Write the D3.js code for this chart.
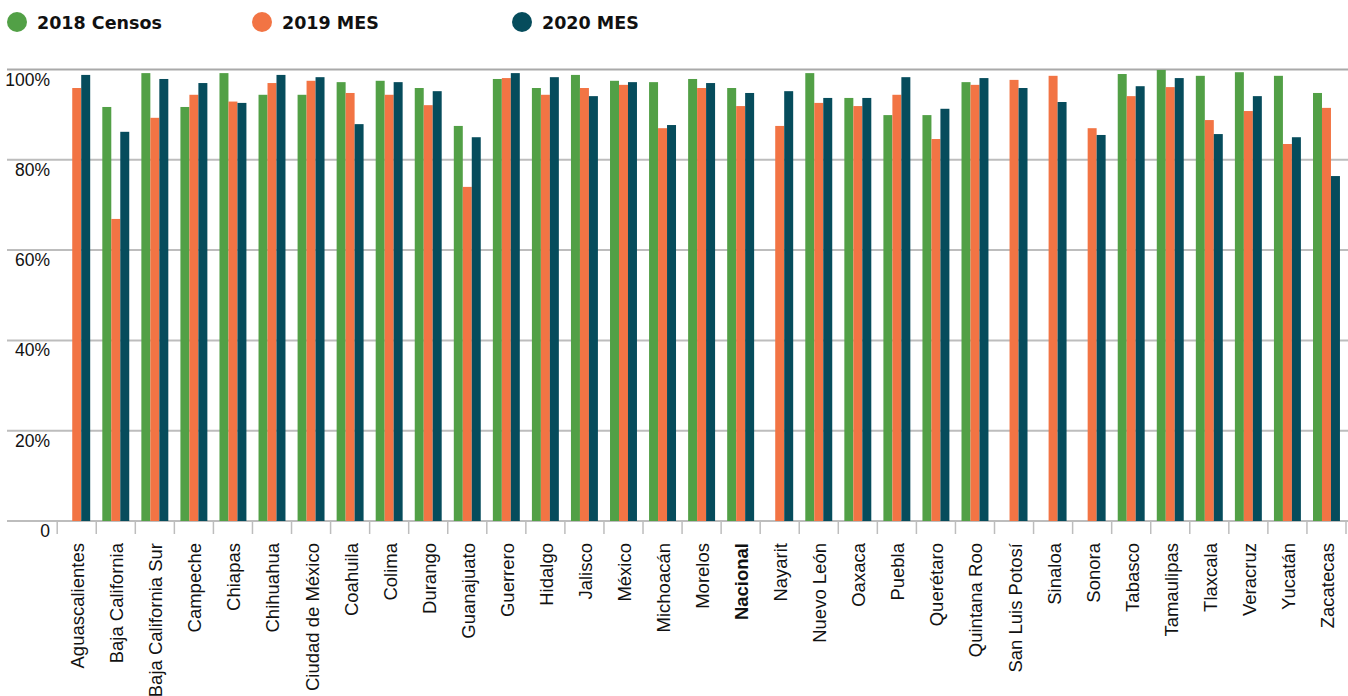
<!DOCTYPE html>
<html>
<head>
<meta charset="utf-8">
<script src="https://cdn.jsdelivr.net/npm/d3@7"></script>
<style>
  body { margin: 0; background: #fff; }
  svg { display: block; }
</style>
</head>
<body>
<div id="chart"></div>
<script>
// categorias (estados)
var states = ["Aguascalientes", "Baja California", "Baja California Sur", "Campeche", "Chiapas",
    "Chihuahua", "Ciudad de México", "Coahuila", "Colima", "Durango", "Guanajuato", "Guerrero",
    "Hidalgo", "Jalisco", "México", "Michoacán", "Morelos", "Nacional", "Nayarit", "Nuevo León",
    "Oaxaca", "Puebla", "Querétaro", "Quintana Roo", "San Luis Potosí", "Sinaloa", "Sonora",
    "Tabasco", "Tamaulipas", "Tlaxcala", "Veracruz", "Yucatán", "Zacatecas"];

var seriesNames = ["2018 Censos", "2019 MES", "2020 MES"];

var censos2018 = [null, 91.7, 99.2, 91.7, 99.2, 94.4, 94.4, 97.2, 97.5, 95.9, 87.5, 97.9,
    95.9, 98.8, 97.5, 97.2, 97.9, 95.9, null, 99.2, 93.7, 89.9, 89.9, 97.2, null, null, null,
    99.0, 99.9, 98.6, 99.4, 98.6, 94.8];

var mes2019 = [95.9, 66.9, 89.3, 94.4, 92.9, 97.0, 97.5, 94.8, 94.4, 92.1, 74.0, 98.1,
    94.4, 95.9, 96.6, 87.0, 95.9, 91.9, 87.5, 92.6, 91.9, 94.4, 84.6, 96.6, 97.7, 98.6, 87.0,
    94.1, 96.1, 88.8, 90.8, 83.5, 91.5];

var mes2020 = [98.8, 86.2, 97.9, 97.0, 92.6, 98.8, 98.3, 87.9, 97.2, 95.2, 85.0, 99.2,
    98.3, 94.1, 97.2, 87.7, 97.0, 94.8, 95.2, 93.7, 93.7, 98.3, 91.3, 98.1, 95.9, 92.8, 85.5,
    96.3, 98.1, 85.7, 94.1, 85.0, 76.4];

var yTicks = [0, 20, 40, 60, 80, 100];

var colors = ["#52a046", "#f27444", "#064c5c"];

var width = 1348, height = 696;
var svg = d3.select("#chart").append("svg")
    .attr("width", width)
    .attr("height", height);

var series = [censos2018, mes2019, mes2020];

var x0 = d3.scaleBand().domain(states).range([57.2, 1346])
    .paddingInner(0.31).paddingOuter(0.155);
var x1 = d3.scaleBand().domain(d3.range(3)).range([0, x0.bandwidth()]);
var y = d3.scaleLinear().domain([0, 100]).range([521, 69.5]);

// lineas de la cuadricula
svg.append("g").selectAll("line")
    .data(yTicks)
    .join("line")
    .attr("x1", 7).attr("x2", width)
    .attr("y1", function(d) { return y(d); })
    .attr("y2", function(d) { return y(d); })
    .attr("stroke", function(d) { return d === 100 ? "#a9a9a9" : "#bdbdbd"; })
    .attr("stroke-width", 2);

// etiquetas eje y
svg.append("g").selectAll("text")
    .data(yTicks)
    .join("text")
    .attr("x", 50)
    .attr("y", function(d) { return y(d) + 16; })
    .attr("text-anchor", "end")
    .style("font-family", "'Liberation Sans', Arial, sans-serif")
    .style("font-size", "17.5px")
    .style("fill", "#111")
    .text(function(d) { return d === 0 ? "0" : d + "%"; });

// marcas del eje x en los limites de cada categoria
var step = x0.step();
var edges = states.map(function(s) { return x0(s) - step * x0.paddingInner() / 2; });
edges.push(edges[edges.length - 1] + step);
svg.append("g").selectAll("line")
    .data(edges)
    .join("line")
    .attr("x1", function(d) { return d; })
    .attr("x2", function(d) { return d; })
    .attr("y1", 521).attr("y2", 534)
    .attr("stroke", "#bdbdbd")
    .attr("stroke-width", 1.5);

// barras
var groups = svg.append("g").selectAll("g")
    .data(states)
    .join("g")
    .attr("transform", function(d) { return "translate(" + x0(d) + ",0)"; });

groups.selectAll("rect")
    .data(function(d, i) {
        return series.map(function(s, k) { return {k: k, v: s[i]}; })
            .filter(function(e) { return e.v != null; });
    })
    .join("rect")
    .attr("x", function(d) { return x1(d.k); })
    .attr("y", function(d) { return y(d.v); })
    .attr("width", x1.bandwidth())
    .attr("height", function(d) { return y(0) - y(d.v); })
    .attr("fill", function(d) { return colors[d.k]; });

// etiquetas eje x
svg.append("g").selectAll("text")
    .data(states)
    .join("text")
    .attr("transform", function(d) {
        return "translate(" + (x0(d) + x0.bandwidth() / 2 + 1) + ",543) rotate(-90)";
    })
    .attr("dy", "0.35em")
    .attr("text-anchor", "end")
    .style("font-family", "'Liberation Sans', Arial, sans-serif")
    .style("font-size", "18.5px")
    .style("font-weight", function(d) { return d === "Nacional" ? "bold" : "normal"; })
    .style("fill", "#111")
    .text(function(d) { return d; });

// leyenda
var legendX = [17, 262, 522];
var legend = svg.append("g").selectAll("g")
    .data(seriesNames)
    .join("g")
    .attr("transform", function(d, i) { return "translate(" + legendX[i] + ",22)"; });

legend.append("circle")
    .attr("r", 10)
    .attr("fill", function(d, i) { return colors[i]; });

legend.append("text")
    .attr("x", 20)
    .attr("y", 7)
    .style("font-family", "'DejaVu Sans', sans-serif")
    .style("font-weight", "bold")
    .style("font-size", "17.5px")
    .style("fill", "#111")
    .text(function(d) { return d; });
</script>
</body>
</html>
